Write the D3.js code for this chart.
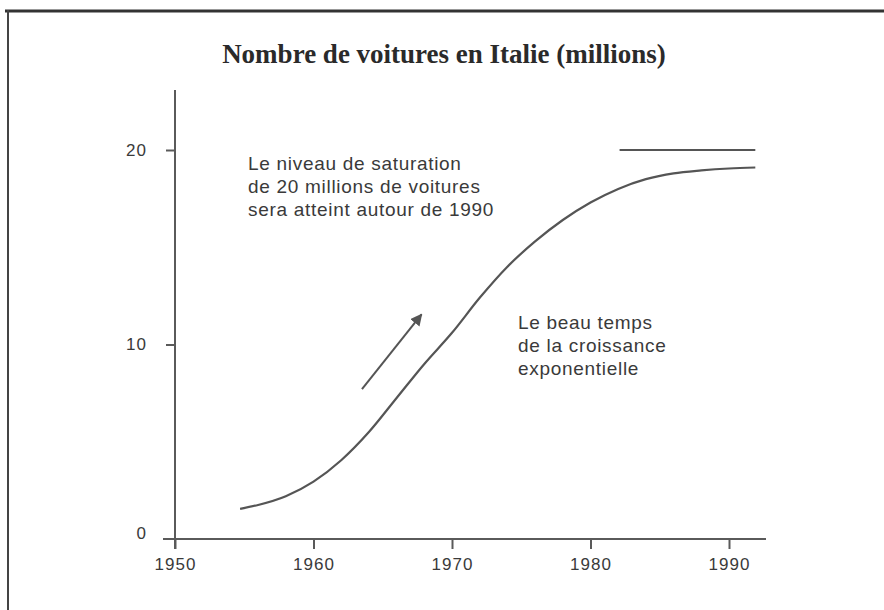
<!DOCTYPE html>
<html>
<head>
<meta charset="utf-8">
<script src="https://cdn.jsdelivr.net/npm/d3@7/dist/d3.min.js"></script>
<style>
  html, body { margin: 0; padding: 0; background: #fff; }
  svg { display: block; }
</style>
</head>
<body>
<svg id="chart" width="884" height="610"></svg>
<script>
// ---- Data ----
const years  = [1954.7, 1956, 1958, 1960, 1962, 1964, 1966, 1968, 1970, 1972, 1974, 1976, 1978, 1980, 1982, 1984, 1986, 1988, 1990, 1991.9];
const cars   = [1.55, 1.75, 2.2, 2.95, 4.05, 5.5, 7.25, 9.0, 10.6, 12.4, 14.0, 15.3, 16.4, 17.3, 18.0, 18.5, 18.8, 18.95, 19.05, 19.1];
const saturationYears = [1982.1, 1991.9];
const saturationLevel = 20;
const xTicks = [1950, 1960, 1970, 1980, 1990];
const yTicks = [0, 10, 20];
const arrowFrom = [1963.5, 7.7];
const arrowTo   = [1967.8, 11.55];
const title = "Nombre de voitures en Italie (millions)";
const note1 = ["Le niveau de saturation", "de 20 millions de voitures", "sera atteint autour de 1990"];
const note2 = ["Le beau temps", "de la croissance", "exponentielle"];

// ---- Layout ----
const svg = d3.select("#chart");
const x = d3.scaleLinear().domain([1950, 1990]).range([175, 729]);
const y = d3.scaleLinear().domain([0, 20]).range([539, 150]);
const axisColor = "#5a5a5a";
const lineColor = "#555";
const textColor = "#3a3a3a";

// Frame
svg.append("line").attr("x1", 5).attr("x2", 884).attr("y1", 11).attr("y2", 11)
  .attr("stroke", "#333").attr("stroke-width", 3);
svg.append("line").attr("x1", 8).attr("x2", 8).attr("y1", 10).attr("y2", 610)
  .attr("stroke", "#444").attr("stroke-width", 2);

// Title
svg.append("text").attr("x", 444).attr("y", 63).attr("text-anchor", "middle")
  .attr("font-family", "'Liberation Serif', 'Times New Roman', serif")
  .attr("font-weight", "bold").attr("font-size", 27).attr("fill", "#2a2a2a")
  .text(title);

// Axes
const xAxis = d3.axisBottom(x).tickValues(xTicks).tickSize(10).tickPadding(9).tickFormat(d3.format("d"));
const gx = svg.append("g").attr("transform", `translate(0,${y(0)})`).call(xAxis);
gx.select(".domain").remove();
gx.selectAll(".tick line").attr("stroke", axisColor).attr("stroke-width", 2);
gx.selectAll(".tick text").attr("font-family", "'Liberation Sans', Arial, sans-serif")
  .attr("font-size", 17).attr("letter-spacing", 1).attr("fill", textColor);

const yAxis = d3.axisLeft(y).tickValues(yTicks).tickSize(9).tickPadding(19);
const gy = svg.append("g").attr("transform", `translate(${x(1950)},0)`).call(yAxis);
gy.select(".domain").remove();
gy.selectAll(".tick line").attr("stroke", axisColor).attr("stroke-width", 2);
gy.selectAll(".tick text").attr("font-family", "'Liberation Sans', Arial, sans-serif")
  .attr("font-size", 17).attr("letter-spacing", 1).attr("fill", textColor)
  .attr("dy", d => d === 0 ? "-0.05em" : "0.32em");
gy.selectAll(".tick").filter(d => d === 0).select("line").remove();

// axis lines
svg.append("line").attr("x1", x(1950)).attr("x2", x(1950)).attr("y1", 90).attr("y2", y(0) + 10)
  .attr("stroke", axisColor).attr("stroke-width", 2);
svg.append("line").attr("x1", x(1950) - 12).attr("x2", 766).attr("y1", y(0)).attr("y2", y(0))
  .attr("stroke", axisColor).attr("stroke-width", 2);

// Saturation line
svg.append("line")
  .attr("x1", x(saturationYears[0])).attr("x2", x(saturationYears[1]))
  .attr("y1", y(saturationLevel)).attr("y2", y(saturationLevel))
  .attr("stroke", lineColor).attr("stroke-width", 2.2);

// Curve
const pts = years.map((yr, i) => [yr, cars[i]]);
const line = d3.line().x(d => x(d[0])).y(d => y(d[1])).curve(d3.curveMonotoneX);
svg.append("path").datum(pts).attr("d", line)
  .attr("fill", "none").attr("stroke", lineColor).attr("stroke-width", 2.2);

// Arrow
svg.append("defs").append("marker").attr("id", "head")
  .attr("viewBox", "0 0 10 10").attr("refX", 9).attr("refY", 5)
  .attr("markerWidth", 6).attr("markerHeight", 6).attr("orient", "auto")
  .attr("markerUnits", "strokeWidth")
  .append("path").attr("d", "M0,0 L10,5 L0,10 z").attr("fill", lineColor);
svg.append("line")
  .attr("x1", x(arrowFrom[0])).attr("y1", y(arrowFrom[1]))
  .attr("x2", x(arrowTo[0])).attr("y2", y(arrowTo[1]))
  .attr("stroke", lineColor).attr("stroke-width", 2).attr("marker-end", "url(#head)");

// Notes
function note(lines, x0, y0) {
  const t = svg.append("text").attr("font-family", "'Liberation Sans', Arial, sans-serif")
    .attr("font-size", 19).attr("letter-spacing", 0.7).attr("fill", textColor);
  lines.forEach((s, i) => t.append("tspan").attr("x", x0).attr("y", y0 + i * 23).text(s));
}
note(note1, 248, 170);
note(note2, 518, 329);
</script>
</body>
</html>
